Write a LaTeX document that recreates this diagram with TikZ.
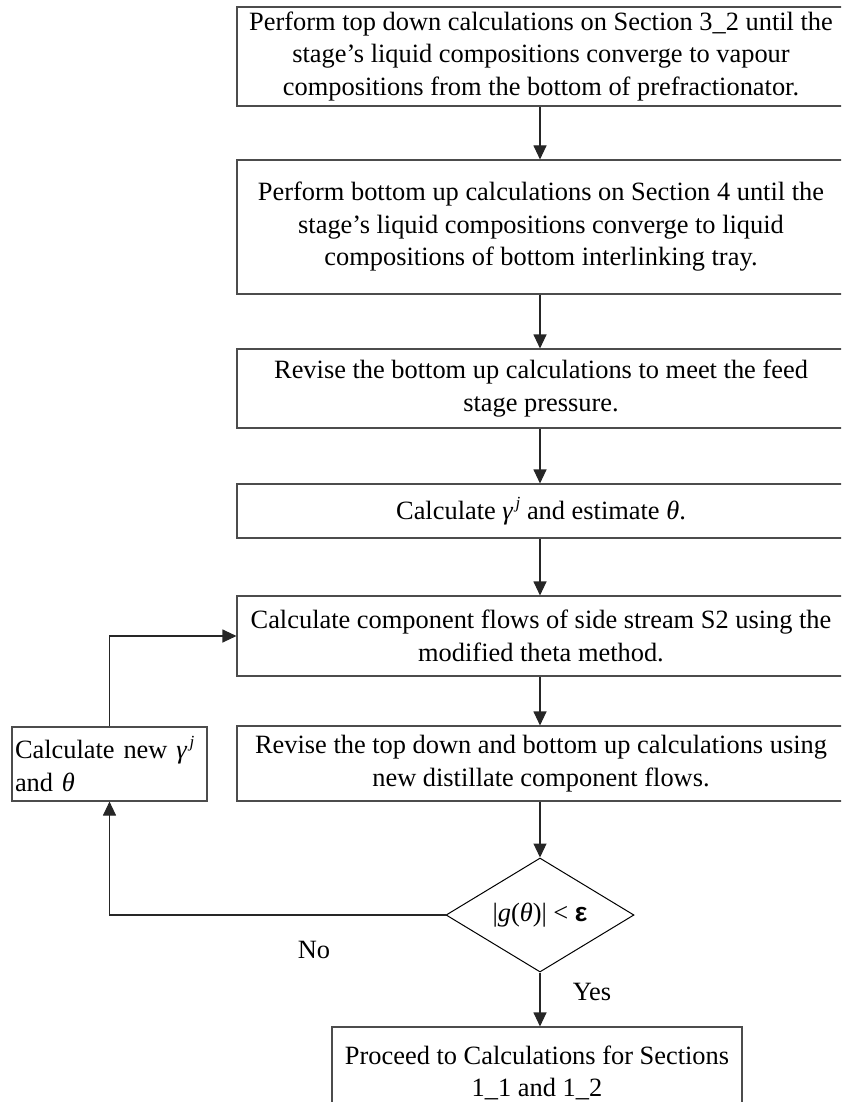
\documentclass[tikz,border=0pt]{standalone}
\usepackage{fontspec}
\setmainfont{Liberation Serif}
\newfontfamily\epsfont{Liberation Sans}
\usetikzlibrary{arrows.meta,shapes.geometric}

% raised italic index j after a symbol
\newcommand{\supj}{\raisebox{0.42em}{\fontsize{17}{17}\selectfont\,\itshape j}}

\tikzset{
  flowbox/.style={draw=black!70, line width=1.1pt, align=center, inner sep=0pt,
                  minimum width=608pt},
  sidebox/.style={draw=black!70, line width=1.1pt, align=left, inner ysep=0pt,
                  inner xsep=3pt, text width=189pt, minimum height=74pt},
  testbox/.style={draw=black, line width=1pt, shape=diamond, inner sep=0pt,
                  aspect=1.65, minimum width=188pt, minimum height=114pt},
  flow/.style={draw=black!85, line width=1.1pt, -{Triangle[length=14pt,width=13pt]}},
  lbl/.style={inner sep=0pt}
}

\begin{document}
\begin{tikzpicture}[x=1pt, y=-1pt, font=\fontsize{26.4}{32.5}\selectfont]
  \useasboundingbox (0,0) rectangle (841,1102);
  \clip (0,0) rectangle (841,1102);

  % main column of steps
  \node[flowbox, minimum height=99pt] (b1) at (541,56.5)
    {Perform top down calculations on Section 3\_2 until the\\
     stage’s liquid compositions converge to vapour\\
     compositions from the bottom of prefractionator.};
  \node[flowbox, minimum height=134pt] (b2) at (541,227)
    {Perform bottom up calculations on Section 4 until the\\
     stage’s liquid compositions converge to liquid\\
     compositions of bottom interlinking tray.};
  \node[flowbox, minimum height=79pt] (b3) at (541,388.5)
    {Revise the bottom up calculations to meet the feed\\
     stage pressure.};
  \node[flowbox, minimum height=54pt] (b4) at (541,511)
    {Calculate {\itshape γ}\supj\ and estimate {\itshape θ}.};
  \node[flowbox, minimum height=80pt] (b5) at (541,636)
    {Calculate component flows of side stream S2 using the\\
     modified theta method.};
  \node[flowbox, minimum height=75pt] (b6) at (541,763.5)
    {Revise the top down and bottom up calculations using\\
     new distillate component flows.};

  % convergence test
  \node[testbox] (test) at (540,915)
    {|\textit{g}(\textit{θ})| < {\epsfont\bfseries ε}};

  % update step on the left
  \node[sidebox] (upd) at (109.5,764)
    {Calculate new {\itshape γ}\supj\\
     and {\itshape θ}};

  % final step
  \node[draw=black!70, line width=1.1pt, align=center, inner sep=0pt,
        minimum width=410pt, minimum height=92pt] (b7) at (537,1073)
    {Proceed to Calculations for Sections\\
     1\_1 and 1\_2};

  % connectors
  \draw[flow] (b1.south -| test.north) -- (b2.north -| test.north);
  \draw[flow] (b2.south -| test.north) -- (b3.north -| test.north);
  \draw[flow] (b3.south -| test.north) -- (b4.north -| test.north);
  \draw[flow] (b4.south -| test.north) -- (b5.north -| test.north);
  \draw[flow] (b5.south -| test.north) -- (b6.north -| test.north);
  \draw[flow] (b6.south -| test.north) -- (test.north);
  \draw[flow] (test.south) -- (test.south |- b7.north);
  \draw[flow] (test.west) -| (upd.south);
  \draw[flow] (upd.north) |- (b5.west);

  % branch labels
  \node[lbl] (no) at (314,950) {No};
  \node[lbl] (yes) at (592,992) {Yes};
\end{tikzpicture}
\end{document}
